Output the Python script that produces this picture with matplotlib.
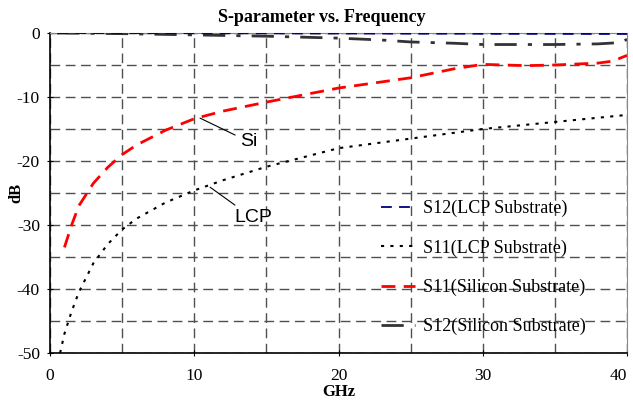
import matplotlib
matplotlib.use("Agg")
import matplotlib.pyplot as plt

plt.rcParams["axes.unicode_minus"] = False

# GHz / dB values
f_lcp11 = [0.7, 1.0, 1.5, 2.0, 3.0, 4.0, 5.0, 6.0, 8.0, 10.0, 12.0, 15.0, 20.0, 25.0, 30.0, 35.0, 40.0]
s11_lcp = [-50.0, -47.0, -43.5, -40.5, -36.0, -33.0, -30.7, -29.0, -26.5, -24.6, -23.0, -20.9, -18.0, -16.5, -15.0, -13.9, -12.8]

f_si11 = [1.0, 1.5, 2.0, 3.0, 4.0, 5.0, 6.0, 8.0, 10.0, 12.0, 15.0, 20.0, 25.0, 28.0, 30.0, 33.0, 35.0, 38.0, 39.0, 40.0]
s11_si = [-33.5, -30.0, -27.0, -23.5, -21.0, -19.0, -17.5, -15.2, -13.4, -12.2, -10.8, -8.6, -7.0, -5.6, -4.9, -5.1, -5.0, -4.7, -4.4, -3.5]

f_lcp12 = [0.5, 5.0, 10.0, 15.0, 20.0, 25.0, 30.0, 35.0, 40.0]
s12_lcp = [0.0, -0.02, -0.04, -0.06, -0.08, -0.1, -0.12, -0.14, -0.15]

f_si12 = [0.5, 5.0, 10.0, 15.0, 20.0, 23.0, 25.0, 28.0, 30.0, 33.0, 35.0, 38.0, 39.5, 40.0]
s12_si = [0.0, -0.1, -0.3, -0.5, -0.8, -1.1, -1.4, -1.6, -1.8, -1.8, -1.8, -1.7, -1.5, -1.0]

xticks = [0, 10, 20, 30, 40]
yticks = [-50, -40, -30, -20, -10, 0]
xgrid_minor = [5, 15, 25, 35]
ygrid_minor = [-45, -35, -25, -15, -5]

W, H = 633, 400
fig = plt.figure(figsize=(W / 100, H / 100), dpi=100)
ax = fig.add_axes([50 / W, 1 - 353 / H, 577 / W, 320 / H])

serif = "Liberation Serif"

ax.plot(f_lcp12, s12_lcp, color="#000080", lw=1.3, dashes=(6, 4), label="S12(LCP Substrate)", zorder=4)
ax.plot(f_lcp11, s11_lcp, color="black", lw=1.5, dashes=(1.5, 3), label="S11(LCP Substrate)", zorder=4)
ax.plot(f_si11, s11_si, color="red", lw=2.0, dashes=(5, 3), label="S11(Silicon Substrate)", zorder=4)
ax.plot(f_si12, s12_si, color="#333333", lw=2.0, dashes=(8, 4, 1.5, 4), label="S12(Silicon Substrate)", zorder=3)

ax.set_xlim(0, 40)
ax.set_ylim(-50, 0)
ax.set_xticks(xticks)
ax.set_yticks(yticks)
ax.set_xticks(xgrid_minor, minor=True)
ax.set_yticks(ygrid_minor, minor=True)
ax.grid(which="both", color="#505050", lw=1.0, dashes=(7, 4))
ax.set_axisbelow(True)
ax.tick_params(which="major", direction="inout", length=4.5, labelsize=12.5)
ax.tick_params(which="minor", length=0)
ax.tick_params(axis="x", pad=8.5)
ax.tick_params(axis="y", pad=5)
for lab in ax.get_xticklabels() + ax.get_yticklabels():
    lab.set_fontfamily(serif)

# keep the last x label inside the picture
ax.get_xticklabels()[-1].set_horizontalalignment("right")

for side in ["top", "right"]:
    ax.spines[side].set_color("#888888")
for side in ["left", "bottom"]:
    ax.spines[side].set_linewidth(1.2)

fig.suptitle("S-parameter vs. Frequency", x=322 / W, y=1 - 18 / H, va="center",
             fontfamily=serif, fontweight="bold", fontsize=13)
ax.set_xlabel("GHz", fontfamily=serif, fontweight="bold", fontsize=12, labelpad=0)
ax.set_ylabel("dB", fontfamily=serif, fontweight="bold", fontsize=12)
ax.yaxis.set_label_coords(-0.045, 0.5)

ax.annotate("Si", xy=(10.4, -13.3), xytext=(13.2, -17.0), fontsize=14,
            fontfamily="Liberation Sans", va="center",
            arrowprops=dict(arrowstyle="-", color="black", lw=0.8, shrinkA=2, shrinkB=0))
ax.annotate("LCP", xy=(11.1, -24.1), xytext=(12.75, -28.9), fontsize=14,
            fontfamily="Liberation Sans", va="center",
            arrowprops=dict(arrowstyle="-", color="black", lw=0.8, shrinkA=2, shrinkB=0))

leg = ax.legend(loc="upper left", bbox_to_anchor=(381 / W, 1 - 200 / H),
                bbox_transform=fig.transFigure, frameon=False,
                prop={"family": serif, "size": 13}, labelspacing=1.22,
                handlelength=1.9, handletextpad=0.4, borderpad=0, borderaxespad=0)
leg.set_zorder(5)

fig.savefig("out.png", dpi=100)
